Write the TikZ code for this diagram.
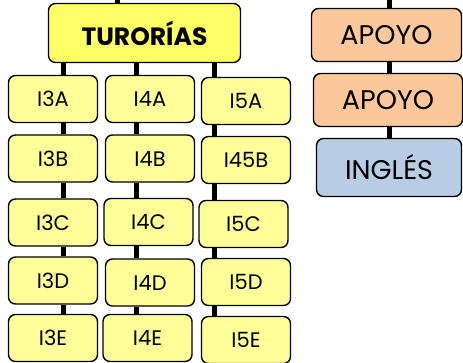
\documentclass[tikz,border=0pt]{standalone}
\usepackage{fontspec}
\setmainfont{Poppins}
\usepackage{tikz}
\tikzset{>=latex}
\definecolor{tutfill}{HTML}{FFFF66}
\definecolor{cellfill}{HTML}{FFFF99}
\definecolor{apfill}{HTML}{FAC89A}
\definecolor{enfill}{HTML}{B8CCE4}
\tikzset{
  box/.style={draw=black,line width=1.4pt,rounded corners=7pt,inner sep=0pt,anchor=center},
  cell/.style={box,fill=cellfill,minimum width=89pt,minimum height=47pt,font=\fontsize{21}{23}\selectfont},
  bigcell/.style={box,font=\fontsize{27}{30}\selectfont},
  conn/.style={line width=5pt}
}

\begin{document}
\begin{tikzpicture}[x=1pt,y=-1pt]
    \useasboundingbox (0,0) rectangle (463,362);
    % columns of the connectors
    \coordinate (c0) at (117.5,0);
    \coordinate (c1) at (63.5,0);
    \coordinate (c2) at (136,0);
    \coordinate (c3) at (214,0);
    \coordinate (c4) at (389.5,0);

    \node[box,fill=tutfill,minimum width=192pt,minimum height=59pt,font=\bfseries\fontsize{25}{28}\selectfont] (tut) at (144.5,33) {TURORÍAS};

    \foreach \name/\txt/\x/\y in {i3a/I3A/53/99, i4a/I4A/150/99, i5a/I5A/246/101,
        i3b/I3B/53/158.5, i4b/I4B/150/158.5, i45b/I45B/246/160,
        i3c/I3C/53/222.5, i4c/I4C/148.5/222, i5c/I5C/243.5/224,
        i3d/I3D/53/280.5, i4d/I4D/150/282.5, i5d/I5D/246/282,
        i3e/I3E/53/338, i4e/I4E/147.5/338, i5e/I5E/246/340} {
      \node[cell] (\name) at (\x,\y) {\txt};
    }

    \node[bigcell,fill=apfill,minimum width=150pt,minimum height=53pt] (apoyo1) at (386.5,35) {APOYO};
    \node[bigcell,fill=apfill,minimum width=149pt,minimum height=53pt] (apoyo2) at (388,100) {APOYO};
    \node[bigcell,fill=enfill,minimum width=145pt,minimum height=58pt] (ingles) at (389,167.5) {INGLÉS};

    % connectors
    \draw[conn] (tut.north -| c0) -- (c0);
    \draw[conn] (apoyo1.north -| c4) -- (c4);
    \draw[conn] (apoyo1.south -| c4) -- (apoyo2.north -| c4);
    \draw[conn] (apoyo2.south -| c4) -- (ingles.north -| c4);
    \foreach \col/\c in {3/c1, 4/c2} {
      \draw[conn] (tut.south -| \c) -- (i\col a.north -| \c);
      \draw[conn] (i\col a.south -| \c) -- (i\col b.north -| \c);
      \draw[conn] (i\col b.south -| \c) -- (i\col c.north -| \c);
      \draw[conn] (i\col c.south -| \c) -- (i\col d.north -| \c);
      \draw[conn] (i\col d.south -| \c) -- (i\col e.north -| \c);
    }
    \draw[conn] (tut.south -| c3) -- (i5a.north -| c3);
    \draw[conn] (i5a.south -| c3) -- (i45b.north -| c3);
    \draw[conn] (i45b.south -| c3) -- (i5c.north -| c3);
    \draw[conn] (i5c.south -| c3) -- (i5d.north -| c3);
    \draw[conn] (i5d.south -| c3) -- (i5e.north -| c3);
\end{tikzpicture}
\end{document}
